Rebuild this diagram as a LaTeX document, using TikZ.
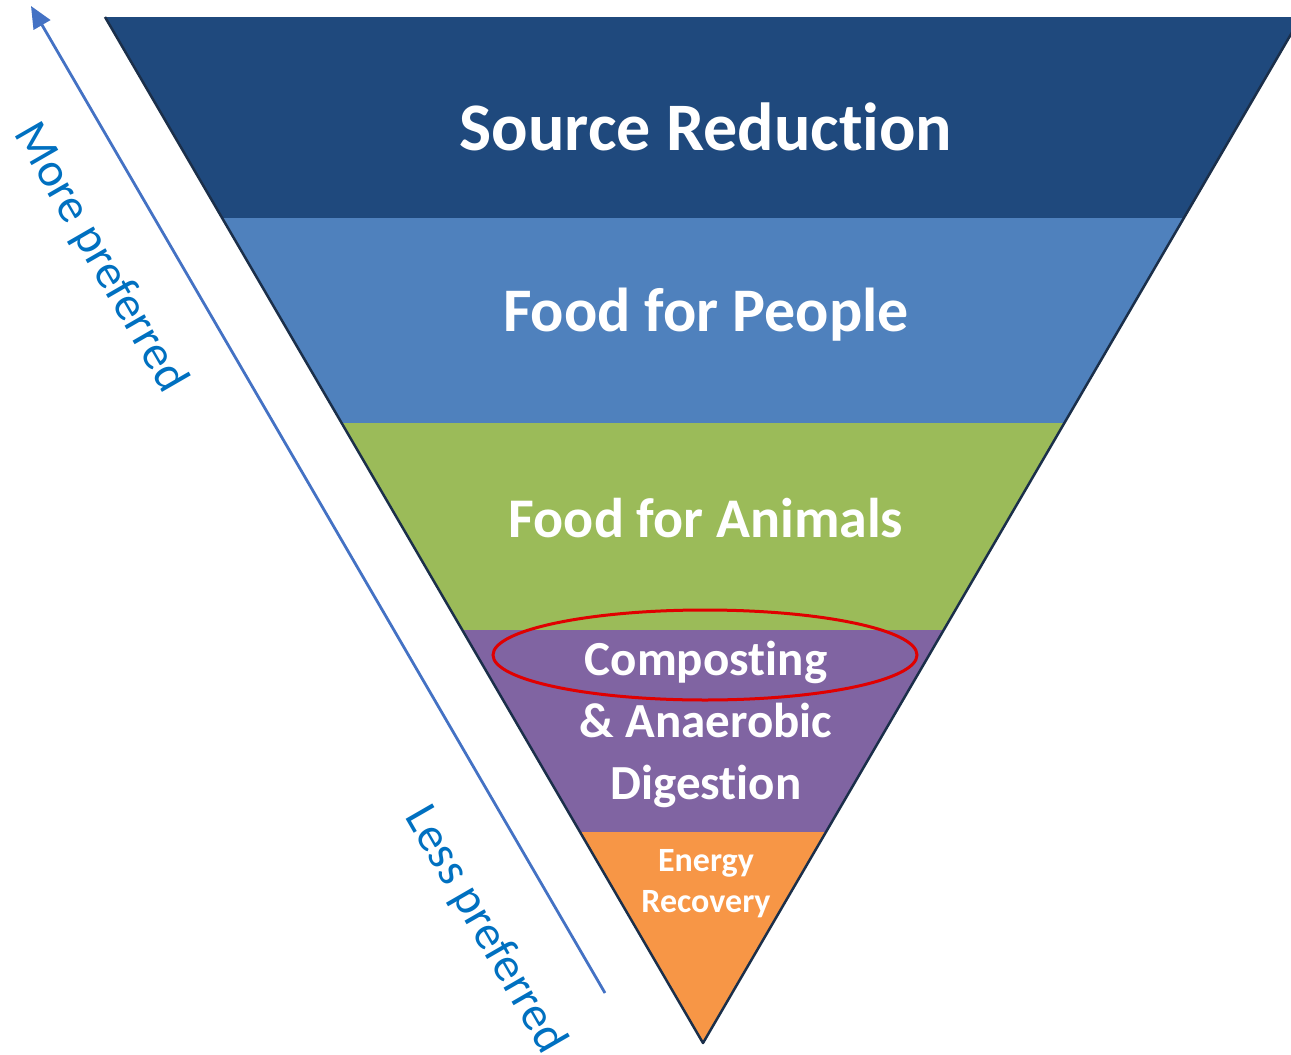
\documentclass[tikz,border=0pt]{standalone}
\usepackage{fontspec}
\setmainfont[Ligatures={NoCommon}]{Carlito}
\usetikzlibrary{arrows.meta}
\definecolor{TierNavy}{HTML}{1F497D}
\definecolor{TierBlue}{HTML}{4F81BD}
\definecolor{TierGreen}{HTML}{9BBB59}
\definecolor{TierPurple}{HTML}{8064A2}
\definecolor{TierOrange}{HTML}{F79646}
\definecolor{TierEdge}{HTML}{1B2F4A}
\definecolor{PrefArrow}{HTML}{4472C4}
\definecolor{PrefText}{HTML}{0070C0}
\definecolor{RingRed}{HTML}{E00000}

\begin{document}
\begin{tikzpicture}[x=1pt,y=-1pt,
  tierlabel/.style={text=white,align=center,inner sep=0pt},
  prefnote/.style={text=PrefText,rotate=-60,inner sep=0pt,font=\fontsize{48}{50}\selectfont}]
  \useasboundingbox (0,0) rectangle (1291,1055);
  \clip (0,0) rectangle (1291,1055);

  % Source Reduction
  \fill[TierNavy] (105,17) -- (1301,17) -- (1183.8,218) -- (222.2,218) -- cycle;
  % Food for People
  \fill[TierBlue] (222.2,218) -- (1183.8,218) -- (1064.3,423) -- (341.7,423) -- cycle;
  % Food for Animals
  \fill[TierGreen] (341.7,423) -- (1064.3,423) -- (943.6,630) -- (462.4,630) -- cycle;
  % Composting & Anaerobic Digestion
  \fill[TierPurple] (462.4,630) -- (943.6,630) -- (825.9,832) -- (580.1,832) -- cycle;
  % Energy Recovery
  \fill[TierOrange] (580.1,832) -- (825.9,832) -- (703,1043) -- cycle;
  % outline of the funnel
  \draw[TierEdge,line width=2.5pt,line join=round] (105,17) -- (703,1043) -- (1301,17);

  \node[tierlabel,font=\bfseries\fontsize{68}{70}\selectfont] (source) at (706,127) {Source Reduction};
  \node[tierlabel,font=\bfseries\fontsize{62}{64}\selectfont] (people) at (706,315) {Food for People};
  \node[tierlabel,font=\bfseries\fontsize{56}{58}\selectfont] (animals) at (706,518) {Food for Animals};
  \node[tierlabel,font=\bfseries\fontsize{49}{62}\selectfont] (compost) at (706,724) {Composting\\\& Anaerobic\\Digestion};
  \node[tierlabel,font=\bfseries\fontsize{34}{41}\selectfont] (energy) at (706,884) {Energy\\Recovery};

  % highlight ring
  \draw[RingRed,line width=3pt] (705,655) ellipse [x radius=212,y radius=45];

  % preference arrow
  \coordinate (lessEnd) at (605,993);
  \coordinate (moreEnd) at (31,6);
  \draw[PrefArrow,line width=2.8pt,-{Triangle[length=22pt,width=19pt]}] (lessEnd) -- (moreEnd);
  \node[prefnote] (more) at (100,258) {More preferred};
  \node[prefnote] (less) at (485,930) {Less preferred};
\end{tikzpicture}
\end{document}
